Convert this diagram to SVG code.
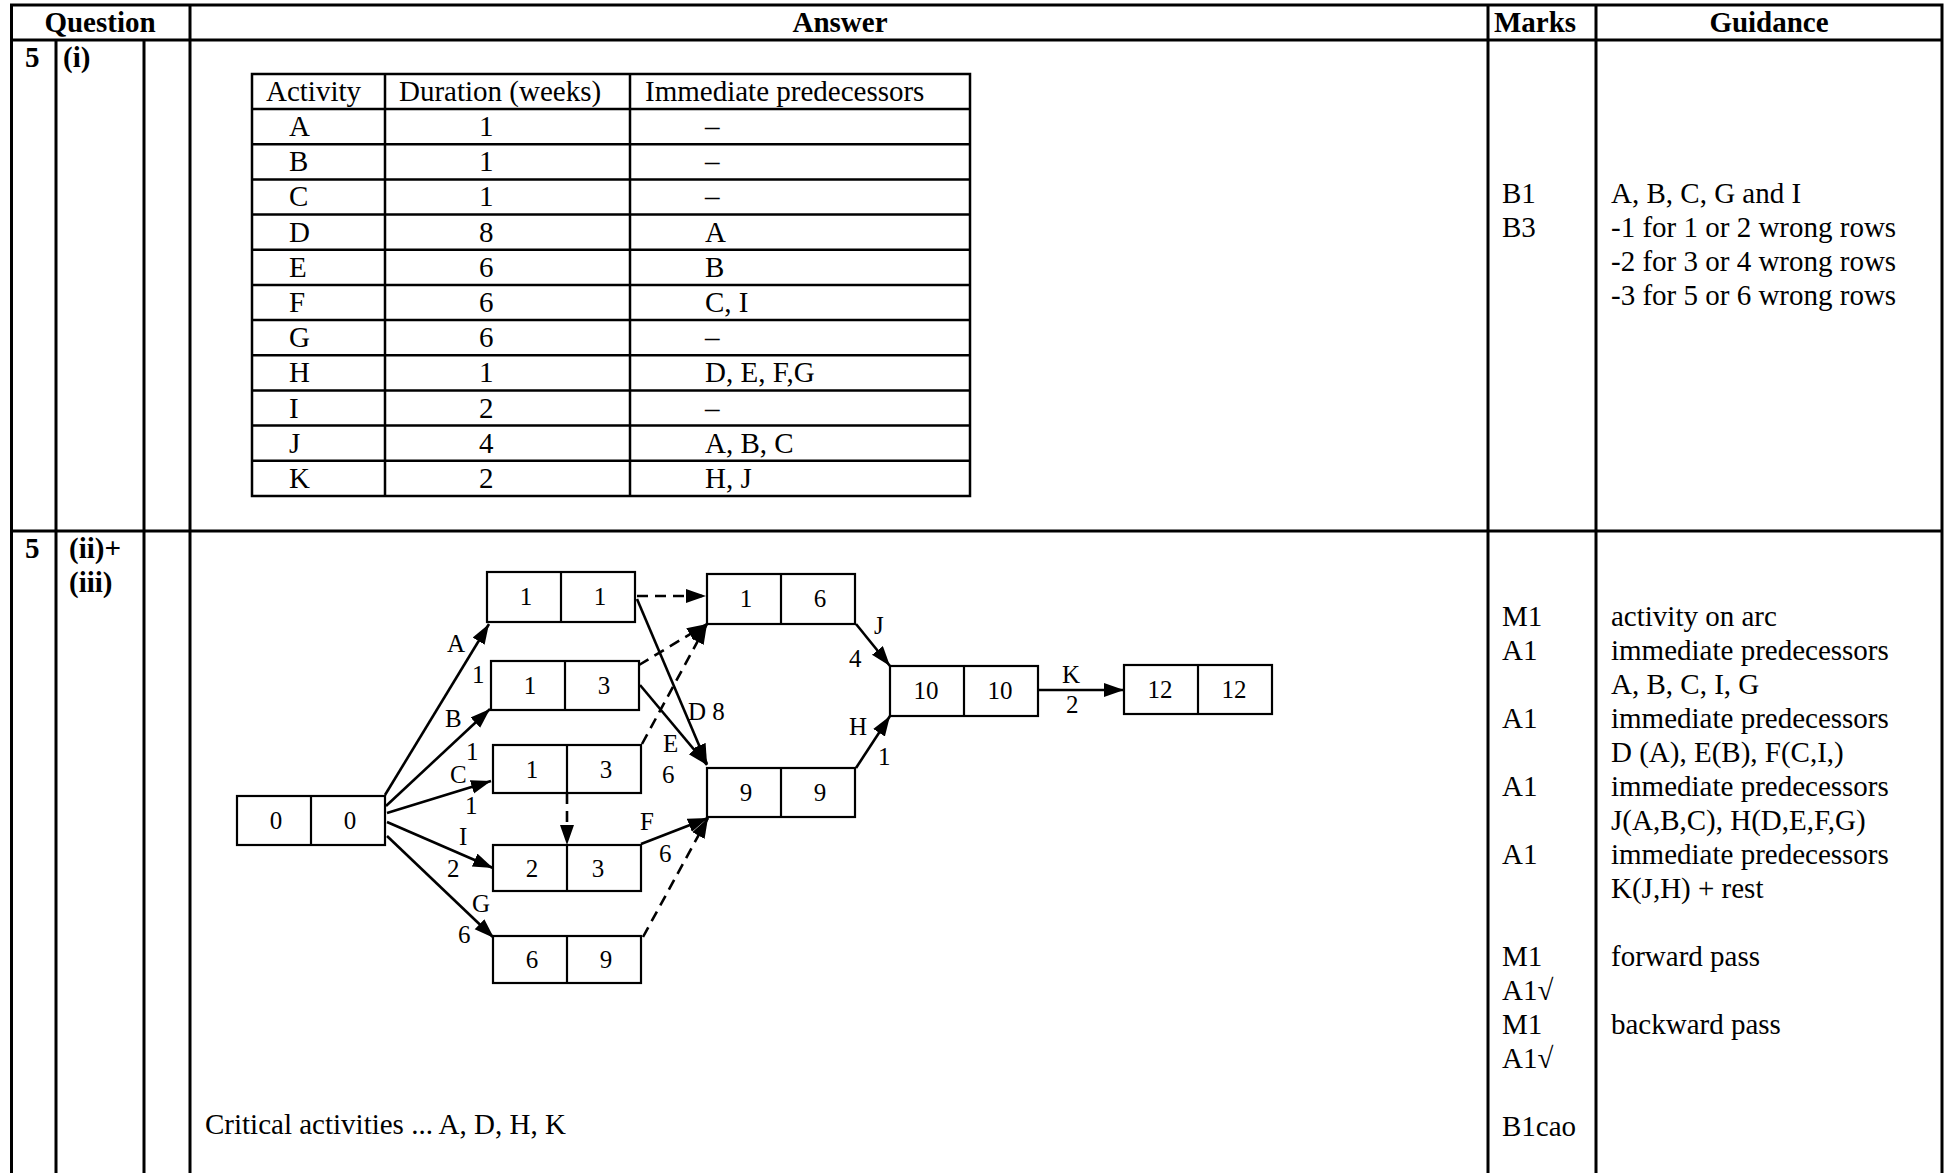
<svg xmlns="http://www.w3.org/2000/svg" width="1945" height="1173" viewBox="0 0 1945 1173">
<style>
text{font-family:"Liberation Serif","Times New Roman",serif;fill:#000}
.h{font-size:29px;font-weight:bold}
.t{font-size:29px}
.n{font-size:25px;text-anchor:middle}
.l{font-size:25px}
.grid{stroke:#000;stroke-width:3;fill:none}
.tbl{stroke:#000;stroke-width:2.5;fill:none}
.box{stroke:#000;stroke-width:2.2;fill:#fff}
.e{stroke:#000;stroke-width:2.6;fill:none;marker-end:url(#ah)}
.d{stroke-dasharray:11 7}
</style>
<defs>
<marker id="ah" markerUnits="userSpaceOnUse" markerWidth="22" markerHeight="16" refX="20" refY="7" orient="auto">
<path d="M0,0 L20,7 L0,14 z" fill="#000"/>
</marker>
</defs>
<rect width="1945" height="1173" fill="#fff"/>
<g id="grid">
<path class="grid" d="M11.5,1173 V5 H1942 V1173 M11.5,40 H1942 M11.5,531 H1942 M56,40 V1173 M144,40 V1173 M190,5 V1173 M1488,5 V1173 M1596,5 V1173"/>
</g>
<g id="headers">
<text class="h" x="100" y="32" text-anchor="middle">Question</text>
<text class="h" x="840" y="32" text-anchor="middle">Answer</text>
<text class="h" x="1494" y="32">Marks</text>
<text class="h" x="1769" y="32" text-anchor="middle">Guidance</text>
<text class="h" x="25" y="67">5</text>
<text class="h" x="63" y="67">(i)</text>
<text class="h" x="25" y="558">5</text>
<text class="h" x="69" y="558">(ii)+</text>
<text class="h" x="69" y="592">(iii)</text>
</g>
<g id="pred-table">
<rect class="tbl" x="252" y="74" width="718" height="422"/>
<path class="tbl" d="M385,74 V496 M630,74 V496 M252,109 H970 M252,144.2 H970 M252,179.4 H970 M252,214.5 H970 M252,249.7 H970 M252,284.9 H970 M252,320.1 H970 M252,355.3 H970 M252,390.4 H970 M252,425.6 H970 M252,460.8 H970"/>
<text class="t" x="266" y="101">Activity</text>
<text class="t" x="399" y="101">Duration (weeks)</text>
<text class="t" x="645" y="101">Immediate predecessors</text>
<g class="t">
<text x="289" y="136">A</text><text x="479" y="136">1</text><text x="705" y="136">–</text>
<text x="289" y="171">B</text><text x="479" y="171">1</text><text x="705" y="171">–</text>
<text x="289" y="206">C</text><text x="479" y="206">1</text><text x="705" y="206">–</text>
<text x="289" y="242">D</text><text x="479" y="242">8</text><text x="705" y="242">A</text>
<text x="289" y="277">E</text><text x="479" y="277">6</text><text x="705" y="277">B</text>
<text x="289" y="312">F</text><text x="479" y="312">6</text><text x="705" y="312">C, I</text>
<text x="289" y="347">G</text><text x="479" y="347">6</text><text x="705" y="347">–</text>
<text x="289" y="382">H</text><text x="479" y="382">1</text><text x="705" y="382">D, E, F,G</text>
<text x="289" y="418">I</text><text x="479" y="418">2</text><text x="705" y="418">–</text>
<text x="289" y="453">J</text><text x="479" y="453">4</text><text x="705" y="453">A, B, C</text>
<text x="289" y="488">K</text><text x="479" y="488">2</text><text x="705" y="488">H, J</text>
</g>
</g>
<g id="marks1" class="t">
<text x="1502" y="203">B1</text>
<text x="1502" y="237">B3</text>
<text x="1611" y="203">A, B, C, G and I</text>
<text x="1611" y="237">-1 for 1 or 2 wrong rows</text>
<text x="1611" y="271">-2 for 3 or 4 wrong rows</text>
<text x="1611" y="305">-3 for 5 or 6 wrong rows</text>
</g>
<g id="marks2" class="t">
<text x="1502" y="626">M1</text><text x="1611" y="626">activity on arc</text>
<text x="1502" y="660">A1</text><text x="1611" y="660">immediate predecessors</text>
<text x="1611" y="694">A, B, C, I, G</text>
<text x="1502" y="728">A1</text><text x="1611" y="728">immediate predecessors</text>
<text x="1611" y="762">D (A), E(B), F(C,I,)</text>
<text x="1502" y="796">A1</text><text x="1611" y="796">immediate predecessors</text>
<text x="1611" y="830">J(A,B,C), H(D,E,F,G)</text>
<text x="1502" y="864">A1</text><text x="1611" y="864">immediate predecessors</text>
<text x="1611" y="898">K(J,H) + rest</text>
<text x="1502" y="966">M1</text><text x="1611" y="966">forward pass</text>
<text x="1502" y="1000">A1√</text>
<text x="1502" y="1034">M1</text><text x="1611" y="1034">backward pass</text>
<text x="1502" y="1068">A1√</text>
<text x="1502" y="1136">B1cao</text>
</g>
<text class="t" x="205" y="1134">Critical activities ... A, D, H, K</text>
<g id="connectors">
<path class="e" d="M385,795 L489,624"/>
<path class="e" d="M386,806 L490,709"/>
<path class="e" d="M387,813 L491,781"/>
<path class="e" d="M387,822 L493,868"/>
<path class="e" d="M387,836 L494,938"/>
<path class="e d" d="M637,596 L706,596"/>
<path class="e" d="M637,599 L707,764"/>
<path class="e" d="M640,685 L707,765"/>
<path class="e d" d="M639,665 L707,624"/>
<path class="e d" d="M642,744 L707,624"/>
<path class="e d" d="M567,793 L567,845"/>
<path class="e" d="M641,844 L708,818"/>
<path class="e d" d="M643,937 L708,818"/>
<path class="e" d="M856,624 L890,666"/>
<path class="e" d="M856,768 L890,716"/>
<path class="e" d="M1039,690 L1124,690"/>
</g>
<g id="edge-labels" class="l">
<text x="447" y="652">A</text><text x="472" y="683">1</text>
<text x="445" y="727">B</text><text x="466" y="760">1</text>
<text x="450" y="783">C</text><text x="465" y="814">1</text>
<text x="459" y="845">I</text><text x="447" y="877">2</text>
<text x="472" y="912">G</text><text x="458" y="943">6</text>
<text x="688" y="720">D 8</text>
<text x="663" y="752">E</text><text x="662" y="783">6</text>
<text x="640" y="830">F</text><text x="659" y="862">6</text>
<text x="874" y="634">J</text><text x="849" y="667">4</text>
<text x="849" y="735">H</text><text x="878" y="765">1</text>
<text x="1062" y="683">K</text><text x="1066" y="713">2</text>
</g>
<g id="n0"><rect class="box" x="237" y="796" width="148" height="49"/><path class="box" d="M311,796 V845"/><text class="n" x="276" y="829">0</text><text class="n" x="350" y="829">0</text></g>
<g id="n1"><rect class="box" x="487" y="572" width="148" height="50"/><path class="box" d="M561,572 V622"/><text class="n" x="526" y="605">1</text><text class="n" x="600" y="605">1</text></g>
<g id="n2"><rect class="box" x="491" y="661" width="148" height="49"/><path class="box" d="M565,661 V710"/><text class="n" x="530" y="694">1</text><text class="n" x="604" y="694">3</text></g>
<g id="n3"><rect class="box" x="493" y="745" width="148" height="48"/><path class="box" d="M567,745 V793"/><text class="n" x="532" y="778">1</text><text class="n" x="606" y="778">3</text></g>
<g id="n4"><rect class="box" x="493" y="845" width="148" height="46"/><path class="box" d="M567,845 V891"/><text class="n" x="532" y="877">2</text><text class="n" x="598" y="877">3</text></g>
<g id="n5"><rect class="box" x="493" y="936" width="148" height="47"/><path class="box" d="M567,936 V983"/><text class="n" x="532" y="968">6</text><text class="n" x="606" y="968">9</text></g>
<g id="n6"><rect class="box" x="707" y="574" width="148" height="50"/><path class="box" d="M781,574 V624"/><text class="n" x="746" y="607">1</text><text class="n" x="820" y="607">6</text></g>
<g id="n7"><rect class="box" x="707" y="768" width="148" height="49"/><path class="box" d="M781,768 V817"/><text class="n" x="746" y="801">9</text><text class="n" x="820" y="801">9</text></g>
<g id="n8"><rect class="box" x="890" y="666" width="148" height="50"/><path class="box" d="M964,666 V716"/><text class="n" x="926" y="699">10</text><text class="n" x="1000" y="699">10</text></g>
<g id="n9"><rect class="box" x="1124" y="665" width="148" height="49"/><path class="box" d="M1198,665 V714"/><text class="n" x="1160" y="698">12</text><text class="n" x="1234" y="698">12</text></g>
</svg>
